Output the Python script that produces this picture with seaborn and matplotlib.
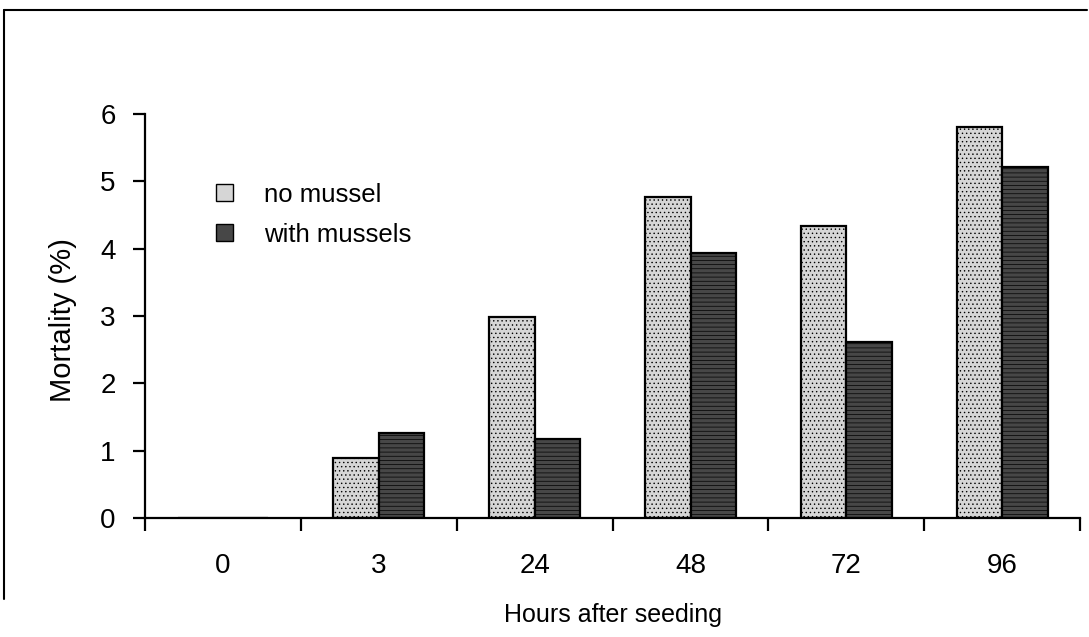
import pandas as pd
import seaborn as sns
import matplotlib.pyplot as plt
from matplotlib.lines import Line2D

horas = ["0", "3", "24", "48", "72", "96"]
sin_mejillon = [0, 0.89, 2.98, 4.76, 4.33, 5.80]
con_mejillon = [0, 1.26, 1.17, 3.94, 2.62, 5.21]
grupos = ["no mussel", "with mussels"]

df = pd.DataFrame({
    "Hours": horas * 2,
    "Mortality": sin_mejillon + con_mejillon,
    "Grupo": [grupos[0]] * len(horas) + [grupos[1]] * len(horas),
})

sns.set_theme(style="white")
plt.rcParams["font.family"] = ["Liberation Sans", "DejaVu Sans"]
plt.rcParams["hatch.color"] = "#6a6a6a"
plt.rcParams["hatch.linewidth"] = 0.5
plt.rcParams["text.color"] = "black"
plt.rcParams["xtick.color"] = "black"
plt.rcParams["ytick.color"] = "black"
plt.rcParams["axes.labelcolor"] = "black"

fig = plt.figure(figsize=(10.89, 6.37), dpi=100)
ax = fig.add_axes([0.133, 0.187, 0.859, 0.634])

ax = sns.barplot(
    data=df, x="Hours", y="Mortality", hue="Grupo", order=horas,
    hue_order=grupos, palette=["#d6d6d6", "#474747"], width=0.58,
    edgecolor="black", linewidth=1.6, saturation=1, ax=ax,
)

# textura punteada para imitar el original
for barra in ax.patches[:len(horas)]:
    barra.set_hatch("....")
for barra in ax.patches[len(horas):2 * len(horas)]:
    barra.set_hatch("----")

ax.set_ylim(0, 6)
ax.set_xlim(-0.5, len(horas) - 0.5)
ax.set_yticks(range(7))
ax.set_xticks([i - 0.5 for i in range(len(horas) + 1)], minor=True)
ax.tick_params(axis="x", which="major", length=0, pad=25, labelsize=20)
ax.tick_params(axis="x", which="minor", length=9, width=1.6, direction="out", bottom=True)
ax.tick_params(axis="y", length=9, width=1.6, direction="out", left=True,
               labelsize=20, pad=12)

for lado in ["top", "right"]:
    ax.spines[lado].set_visible(False)
for lado in ["left", "bottom"]:
    ax.spines[lado].set_linewidth(1.6)
    ax.spines[lado].set_color("black")

ax.set_ylabel("Mortality (%)", fontsize=21)
ax.set_xlabel("Hours after seeding", fontsize=18)
ax.yaxis.set_label_coords(-0.073, 0.49)
ax.xaxis.set_label_coords(0.5, -0.21)

ley = ax.legend(loc="upper left", bbox_to_anchor=(0.076, 0.83), frameon=False,
                fontsize=18.5, handlelength=0.66, handleheight=0.66,
                labelspacing=0.62, handletextpad=1.2, borderpad=0,
                borderaxespad=0)
for h in ley.legend_handles:
    h.set_linewidth(1.0)

# marco del escaneo original
fig.add_artist(Line2D([0.004, 0.998], [0.985, 0.985], color="black", lw=1.5))
fig.add_artist(Line2D([0.004, 0.004], [0.06, 0.985], color="black", lw=1.5))

plt.savefig("out.png", dpi=100)
